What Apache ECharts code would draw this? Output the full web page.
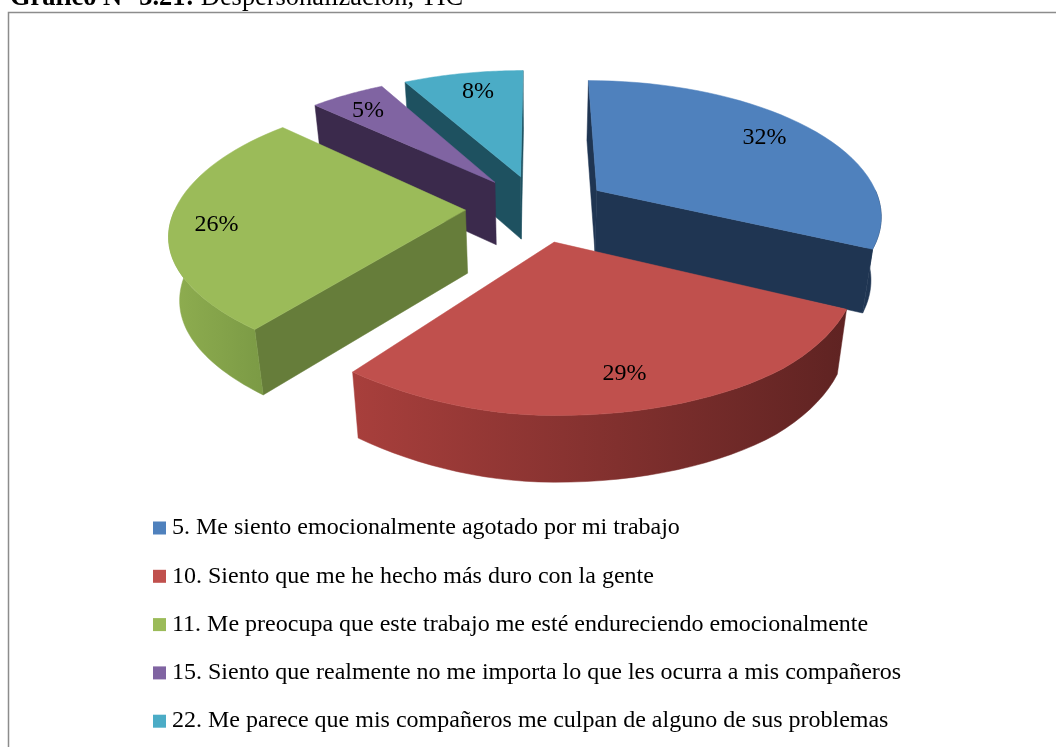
<!DOCTYPE html>
<html>
<head>
<meta charset="utf-8">
<style>
  html, body { margin: 0; padding: 0; background: #fff; }
  #chart { width: 1056px; height: 747px; }
</style>
<script src="https://cdn.jsdelivr.net/npm/echarts@6/dist/echarts.min.js"></script>
</head>
<body>
<div id="chart"></div>
<script>
const categories = [
  '5. Me siento emocionalmente agotado por mi trabajo',
  '10. Siento que me he hecho más duro con la gente',
  '11. Me preocupa que este trabajo me esté endureciendo emocionalmente',
  '15. Siento que realmente no me importa lo que les ocurra a mis compañeros',
  '22. Me parece que mis compañeros me culpan de alguno de sus problemas'
]
const values = [32, 29, 26, 5, 8]

const topColors = ['#4f81bd', '#c0504d', '#9bbb59', '#8064a2', '#4bacc6']
const cutColors = ['#1f3552', '#7a2d2b', '#667d3a', '#3b2a4c', '#1e5160']
const rimColors = [
  ['#1f3552', '#1f3552'],
  ['#a83f3c', '#5f2322'],
  ['#8fae50', '#7b9a45'],
  ['#3b2a4c', '#3b2a4c'],
  ['#1e5160', '#1e5160']
]
const labelRadius = 0.75
const labelShift = [[6, -4], [12, 9], [-29, 8], [-13, -4], [2, -5]]

// pie on the floor, seen in perspective
const cx = 538, cy = 208
const scaleX = 285, scaleY = 134, persp = 0.17
const explode = 0.25, bottomShrink = 0.97

function project(x, y, low) {
  const w = 1 + persp * y
  let sx = cx + scaleX * x / w
  let sy = cy - scaleY * y / w
  // the picture's left half is not a clean perspective, corrected by eye
  const left = Math.max(0, -x), near = Math.max(0, -y)
  sx += 30 * left * near * near * near - 5 * left
  sy -= 16 * Math.max(0, near - 1)
  if (low) {
    sx = cx + (sx - cx) * bottomShrink
    sy += 63 - 3 * y
  }
  return [sx, sy]
}

const total = values.reduce((a, b) => a + b, 0)
const startAngles = values.map((_, i) =>
  values.slice(0, i).reduce((a, b) => a + b, 0) / total * Math.PI * 2)

function renderSlice(i) {
  const a0 = startAngles[i]
  const a1 = a0 + values[i] / total * Math.PI * 2
  const mid = (a0 + a1) / 2
  const ox = Math.sin(mid) * explode
  const oy = Math.cos(mid) * explode
  const at = (a, r, low) => project(ox + Math.sin(a) * r, oy + Math.cos(a) * r, low)

  const children = []
  const poly = (points, fill) => children.push({
    type: 'polygon',
    shape: { points },
    style: { fill, stroke: fill, lineWidth: 0.5 }
  })

  // cut faces, only those turned to the viewer
  ;[[a0, a0 - Math.PI / 2], [a1, a1 + Math.PI / 2]].forEach(([a, normal]) => {
    if (Math.cos(normal) <= 1e-6) {
      poly([at(a, 0), at(a, 1), at(a, 1, true), at(a, 0, true)], cutColors[i])
    }
  })

  // outer rim, front half only
  const from = Math.max(a0, Math.PI / 2)
  const to = Math.min(a1, Math.PI * 1.5)
  if (to > from) {
    const upper = [], lower = []
    for (let k = 0; k <= 40; k++) {
      const a = from + (to - from) * k / 40
      upper.push(at(a, 1))
      lower.unshift(at(a, 1, true))
    }
    poly(upper.concat(lower), {
      type: 'linear', x: 1, y: 0, x2: 0, y2: 0,
      colorStops: [
        { offset: 0, color: rimColors[i][1] },
        { offset: 1, color: rimColors[i][0] }
      ]
    })
  }

  // top face
  const top = [at(0, 0)]
  for (let k = 0; k <= 40; k++) top.push(at(a0 + (a1 - a0) * k / 40, 1))
  poly(top, topColors[i])

  const labelPos = at(mid, labelRadius)
  children.push({
    type: 'text',
    x: labelPos[0] + labelShift[i][0],
    y: labelPos[1] + labelShift[i][1],
    style: {
      text: Math.round(values[i] / total * 100) + '%',
      fontFamily: '"Liberation Serif"',
      fontSize: 24,
      fill: '#000',
      align: 'center',
      verticalAlign: 'middle'
    }
  })

  return { type: 'group', children }
}

const chart = echarts.init(document.getElementById('chart'))

chart.setOption({
  animation: false,
  backgroundColor: '#fff',
  title: {
    text: '{b|Gráfico N° 3.21:} Despersonalización, TIC',
    left: 5,
    top: -20,
    textStyle: {
      fontFamily: '"Liberation Serif"',
      fontSize: 26.4,
      fontWeight: 'normal',
      color: '#000',
      rich: {
        b: { fontFamily: '"Liberation Serif"', fontSize: 26.4, fontWeight: 'bold', color: '#000' }
      }
    }
  },
  legend: {
    orient: 'vertical',
    left: 153,
    top: 516,
    icon: 'rect',
    itemWidth: 13,
    itemHeight: 13,
    itemGap: 24.3,
    padding: 0,
    textStyle: {
      fontFamily: '"Liberation Serif"',
      fontSize: 24,
      color: '#000',
      padding: [0, 0, 0, 1]
    },
    data: categories
  },
  graphic: [{
    type: 'rect',
    silent: true,
    z: -1,
    shape: { x: 8.5, y: 12.5, width: 1100, height: 800 },
    style: { fill: 'none', stroke: '#8c8c8c', lineWidth: 1.5 }
  }],
  series: categories.map((name, i) => ({
    type: 'custom',
    name,
    coordinateSystem: 'none',
    silent: true,
    // nearer slices paint over the farther ones
    z: 2 + Math.round((1 - Math.cos(startAngles[i] + values[i] / total * Math.PI)) * 10),
    itemStyle: { color: topColors[i] },
    data: [values[i]],
    renderItem: () => renderSlice(i)
  }))
})

window.addEventListener('resize', () => chart.resize())
</script>
</body>
</html>
